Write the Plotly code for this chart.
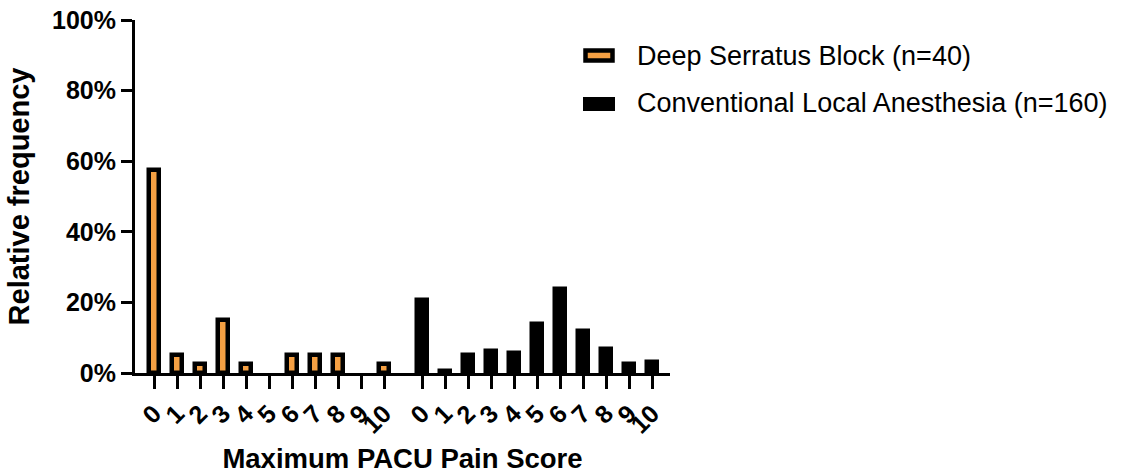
import plotly.graph_objects as go

scores = ["0", "1", "2", "3", "4", "5", "6", "7", "8", "9", "10"]
deep_serratus = [0.575, 0.05, 0.025, 0.15, 0.025, 0.0, 0.05, 0.05, 0.05, 0.0, 0.025]
conventional = [0.206, 0.006, 0.05, 0.0625, 0.056, 0.1375, 0.2375, 0.119, 0.069, 0.025, 0.031]
y_ticks = [0, 0.2, 0.4, 0.6, 0.8, 1.0]
series_names = ["Deep Serratus Block (n=40)", "Conventional Local Anesthesia (n=160)"]

ORANGE = "#F5A043"
FONT = "Arial, Liberation Sans, sans-serif"
W, H = 1148, 476
L, R, T, B = 135, 478, 20, 103
GROUP_OFFSET = 11.65
BORDER = 4.5

x1 = [i for i in range(len(scores))]
x2 = [i + GROUP_OFFSET for i in range(len(scores))]

def border(vals):
    return [BORDER if v > 0 else 0 for v in vals]

fig = go.Figure()
fig.add_trace(go.Bar(x=x1, y=deep_serratus, width=0.46, name=series_names[0],
                     marker=dict(color=ORANGE, line=dict(color="black", width=border(deep_serratus))),
                     showlegend=False))
fig.add_trace(go.Bar(x=x2, y=conventional, width=0.46, name=series_names[1],
                     marker=dict(color="black", line=dict(color="black", width=border(conventional))),
                     showlegend=False))

pw, ph = W - L - R, H - T - B
def px(xp):  # page pixel -> paper
    return (xp - L) / pw
def py(yp):
    return (H - B - yp) / ph

# legend drawn manually (large swatches as in the reference)
fig.add_shape(type="rect", xref="paper", yref="paper",
              x0=px(585.5), x1=px(612.5), y0=py(60.5), y1=py(50.5),
              fillcolor=ORANGE, line=dict(color="black", width=BORDER))
fig.add_shape(type="rect", xref="paper", yref="paper",
              x0=px(583), x1=px(615), y0=py(111), y1=py(97),
              fillcolor="black", line=dict(color="black", width=0))
for name, yc in zip(series_names, [56, 103]):
    fig.add_annotation(text=name, xref="paper", yref="paper", x=px(635), y=py(yc),
                       xanchor="left", yanchor="middle", showarrow=False,
                       font=dict(family=FONT, size=27, color="black"))

fig.update_layout(
    width=W, height=H,
    margin=dict(l=L, r=R, t=T, b=B, autoexpand=False),
    plot_bgcolor="white", paper_bgcolor="white",
    bargap=0, font=dict(family=FONT, color="black"),
)
fig.update_xaxes(
    range=[-0.83, -0.83 + pw / 23.0],
    tickvals=x1 + x2, ticktext=scores + scores, tickangle=-45,
    tickfont=dict(family=FONT, size=25, color="black", weight="bold"),
    showline=True, linewidth=3, linecolor="black",
    ticks="outside", ticklen=13, tickwidth=3, tickcolor="black",
    showgrid=False, zeroline=False, automargin=False, ticklabeloverflow="allow",
    title=dict(text="<b>Maximum PACU Pain Score</b>", standoff=12,
               font=dict(family=FONT, size=27.5, color="black")),
)
fig.update_yaxes(
    range=[0, 1], tickvals=y_ticks, tickformat=".0%",
    tickfont=dict(family=FONT, size=25, color="black", weight="bold"),
    showline=True, linewidth=3, linecolor="black",
    ticks="outside", ticklen=11, tickwidth=3, tickcolor="black",
    showgrid=False, zeroline=False, automargin=False, ticklabeloverflow="allow",
    title=dict(text="<b>Relative frequency</b>", standoff=14,
               font=dict(family=FONT, size=29, color="black")),
)

fig.write_html("out.html", config={"displayModeBar": False},
               post_script="document.body.style.margin='0';document.body.style.overflow='hidden';")
